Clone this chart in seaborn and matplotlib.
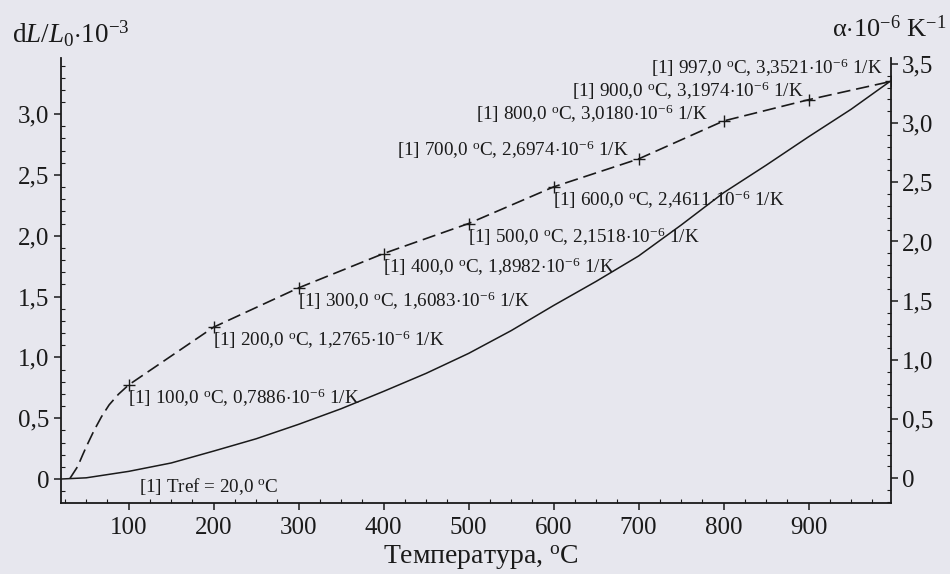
import matplotlib
matplotlib.use("Agg")
import matplotlib.pyplot as plt
import pandas as pd
import seaborn as sns
from matplotlib.ticker import MultipleLocator, FuncFormatter

# Mean coefficient of linear expansion, alpha (x1e-6 1/K), at labelled temperatures
label_temps = [100, 200, 300, 400, 500, 600, 700, 800, 900, 997]
alpha_labelled = [0.7886, 1.2765, 1.6083, 1.8982, 2.1518, 2.4611, 2.6974, 3.0180, 3.1974, 3.3521]

# Start of the alpha curve just above the reference temperature
alpha_onset_temps = [31, 40, 46, 51, 59, 68, 77, 88]
alpha_onset = [0.0, 0.10, 0.20, 0.28, 0.40, 0.52, 0.62, 0.71]

# Relative elongation dL/L0 (x1e-3)
strain_temps = [20, 50, 100, 150, 200, 250, 300, 350, 400, 450, 500,
                550, 600, 650, 700, 750, 800, 850, 900, 950, 997]
strain = [0.0, 0.010, 0.063, 0.132, 0.230, 0.331, 0.450, 0.578, 0.721, 0.869, 1.033,
          1.220, 1.427, 1.625, 1.834, 2.088, 2.354, 2.580, 2.814, 3.040, 3.275]

t_ref = 20.0

# label placement (pixel offsets from each point)
label_offsets = {700: (-10, 3), 800: (-16, 1), 900: (-5, 3), 997: (-8, 7)}

BG = "#e7e7ee"
INK = "#1a1a1a"

sns.set_style("ticks")
plt.rcParams["font.family"] = ["Liberation Serif", "DejaVu Serif"]
plt.rcParams["mathtext.fontset"] = "custom"
plt.rcParams["mathtext.rm"] = "Liberation Serif"
plt.rcParams["mathtext.it"] = "Liberation Serif:italic"
plt.rcParams["mathtext.bf"] = "Liberation Serif:bold"
plt.rcParams["axes.edgecolor"] = INK
plt.rcParams["text.color"] = INK
plt.rcParams["xtick.color"] = INK
plt.rcParams["ytick.color"] = INK

alpha_df = pd.DataFrame({
    "T": alpha_onset_temps + label_temps,
    "alpha": alpha_onset + alpha_labelled,
})
marks_df = pd.DataFrame({"T": label_temps, "alpha": alpha_labelled})
strain_df = pd.DataFrame({"T": strain_temps, "dL": strain})

fig = plt.figure(figsize=(9.5, 5.74), dpi=100, facecolor=BG)
ax = fig.add_axes([0.0639, 0.1237, 0.9379 - 0.0639, 0.899 - 0.1237])
ax.set_facecolor(BG)
ax2 = ax.twinx()

# dL/L0 on the left axis
sns.lineplot(data=strain_df, x="T", y="dL", ax=ax, color=INK, lw=1.1)

# alpha on the right axis
sns.lineplot(data=alpha_df, x="T", y="alpha", ax=ax2, color=INK, lw=1.2)
ax2.lines[0].set_dashes([8, 3.5])
sns.scatterplot(data=marks_df, x="T", y="alpha", ax=ax2, marker="+",
                color=INK, s=70, linewidth=1.0)

ax.set_xlim(t_ref, 997)
ax.set_ylim(-0.197, 3.462)
ax2.set_ylim(-0.209, 3.55)

def comma_fmt(v, pos):
    if abs(v) < 1e-9:
        return "0"
    return f"{v:.1f}".replace(".", ",")

ax.xaxis.set_major_locator(MultipleLocator(100))
ax.xaxis.set_minor_locator(MultipleLocator(25))
ax.yaxis.set_major_locator(MultipleLocator(0.5))
ax.yaxis.set_minor_locator(MultipleLocator(0.1))
ax2.yaxis.set_major_locator(MultipleLocator(0.5))
ax2.yaxis.set_minor_locator(MultipleLocator(0.1))
ax.yaxis.set_major_formatter(FuncFormatter(comma_fmt))
ax2.yaxis.set_major_formatter(FuncFormatter(comma_fmt))

for a in (ax, ax2):
    a.set_xlabel("")
    a.set_ylabel("")
    a.spines["top"].set_visible(False)
    for s in a.spines.values():
        s.set_linewidth(1.3)
    a.tick_params(which="major", direction="out", length=5, width=1.1,
                  labelsize=18, pad=3)
    a.tick_params(which="minor", direction="in", length=3, width=0.8)
ax.spines["right"].set_visible(False)
ax2.spines["left"].set_visible(False)
ax2.spines["bottom"].set_visible(False)
ax.tick_params(axis="x", which="major", pad=5)

# value labels for alpha points
deg = r"$^{\mathrm{o}}$C"
for t, a_val in zip(label_temps, alpha_labelled):
    t_txt = f"{t:.1f}".replace(".", ",")
    a_txt = f"{a_val:.4f}".replace(".", ",")
    txt = f"[1] {t_txt} {deg}, {a_txt}" + r"$\cdot$10$^{-6}$ 1/K"
    if t <= 600:
        ax2.annotate(txt, (t, a_val), xytext=(-1, -19), textcoords="offset pixels",
                     ha="left", va="baseline", fontsize=13.8)
    else:
        ax2.annotate(txt, (t, a_val), xytext=label_offsets[t],
                     textcoords="offset pixels",
                     ha="right", va="baseline", fontsize=13.8)

ax.text(112, -0.065, f"[1] Tref = 20,0 {deg}", ha="left", va="center", fontsize=13.8)

fig.text(12 / 950, 1 - 43 / 574, r"d$L$/$L_0$$\cdot$10$^{-3}$", ha="left",
         va="baseline", fontsize=19.5)
fig.text(946 / 950, 1 - 37 / 574, r"α$\cdot$10$^{-6}$ K$^{-1}$", ha="right",
         va="baseline", fontsize=19)
fig.text(481 / 950, 1 - 564 / 574, f"Температура, {deg}", ha="center",
         va="baseline", fontsize=20)

fig.savefig("out.png", dpi=100, facecolor=BG)
